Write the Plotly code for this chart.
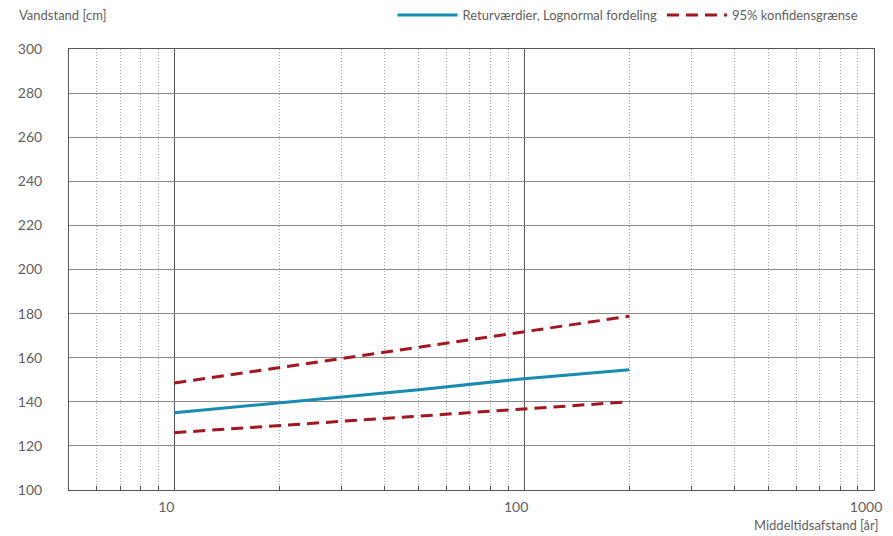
import plotly.graph_objects as go

# Return period (years) and water levels (cm)
return_period = [10, 20, 50, 100, 200]
return_level = [135.0, 139.5, 145.5, 150.5, 154.5]
upper_conf = [148.5, 155.5, 165.0, 172.0, 178.8]
lower_conf = [126.0, 129.2, 133.5, 136.8, 140.0]

y_ticks = [100, 120, 140, 160, 180, 200, 220, 240, 260, 280, 300]
x_ticks = [10, 100, 1000]

text_color = "#5f5f5f"
conf_line = dict(color="#a3161f", width=3, dash="12px,7px")

fig = go.Figure()
fig.add_trace(go.Scatter(x=return_period, y=return_level, mode="lines",
                         name="Returværdier, Lognormal fordeling",
                         line=dict(color="#1a8bb0", width=3)))
fig.add_trace(go.Scatter(x=return_period, y=upper_conf, mode="lines",
                         name="95% konfidensgrænse", line=conf_line))
fig.add_trace(go.Scatter(x=return_period, y=lower_conf, mode="lines",
                         name="95% konfidensgrænse", showlegend=False, line=conf_line))

# page body adds an 8px offset, so the figure is sized to fit the window
fig.update_layout(
    width=885, height=528,
    margin=dict(l=61, r=19, t=41, b=46, autoexpand=False),
    paper_bgcolor="white", plot_bgcolor="white",
    font=dict(family="Lato", size=14, color=text_color),
    legend=dict(orientation="h", x=0.987, xanchor="right", y=1.077, yanchor="middle",
                font=dict(size=13, color=text_color), itemwidth=60,
                bgcolor="rgba(0,0,0,0)"),
    xaxis=dict(type="log", range=[0.699, 3], tickvals=x_ticks,
               ticktext=[str(v) for v in x_ticks],
               showgrid=True, gridcolor="#555", gridwidth=1,
               showline=True, linecolor="#555", mirror=True,
               ticks="inside", ticklen=4, tickcolor="#555",
               ticklabelshift=-8, ticklabelstandoff=4,
               minor=dict(dtick="D1", showgrid=True, gridcolor="#a8a8a8",
                          griddash="1px,2px", ticks="inside", ticklen=4, tickcolor="#555"),
               zeroline=False),
    yaxis=dict(range=[100, 300], tickvals=y_ticks,
               showgrid=True, gridcolor="#8a8a8a", gridwidth=1,
               showline=True, linecolor="#555", mirror=True,
               ticklabelstandoff=23, zeroline=False),
    annotations=[
        dict(text="Vandstand [cm]", xref="paper", yref="paper", x=-0.064, y=1.077,
             xanchor="left", yanchor="middle", showarrow=False,
             font=dict(size=13, color=text_color)),
        dict(text="Middeltidsafstand [år]", xref="paper", yref="paper", x=1.008, y=-0.08,
             xanchor="right", yanchor="middle", showarrow=False,
             font=dict(size=13, color=text_color)),
    ],
)

fig.write_html("out.html")
